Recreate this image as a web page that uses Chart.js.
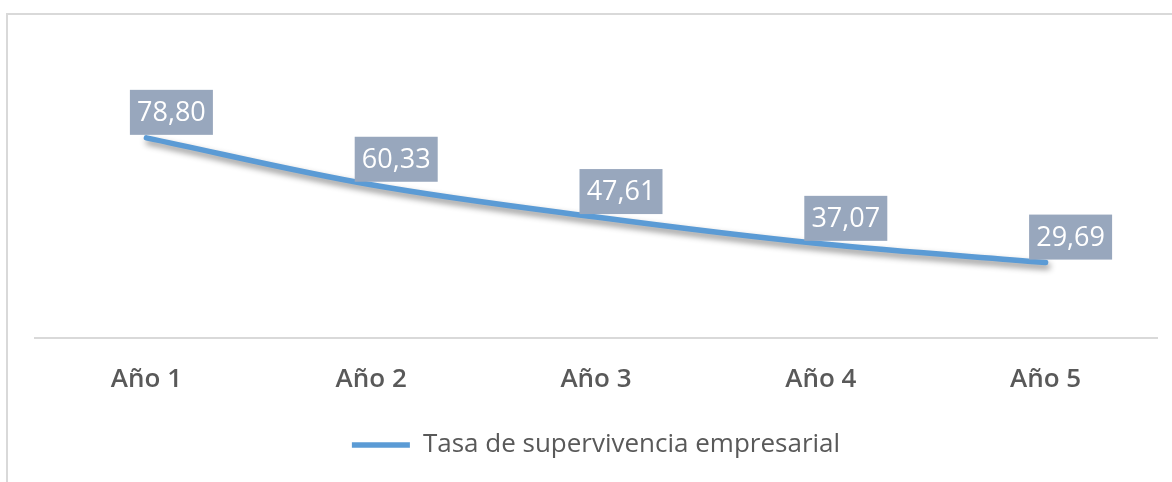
<!DOCTYPE html>
<html>
<head>
<meta charset="utf-8">
<script src="https://cdn.jsdelivr.net/npm/chart.js"></script>
<style>
  html, body { margin: 0; padding: 0; background: #fff; }
  #wrap { width: 1172px; height: 482px; }
</style>
</head>
<body>
<div id="wrap"><canvas id="chart" width="1172" height="482"></canvas></div>
<script>
const categories = ["Año 1", "Año 2", "Año 3", "Año 4", "Año 5"];
const survivalRate = [78.80, 60.33, 47.61, 37.07, 29.69];
const seriesName = "Tasa de supervivencia empresarial";

const fmt = v => v.toFixed(2).replace(".", ",");

// light frame (only top + left edges show) and the category axis line
const frame = {
    id: "frame",
    beforeDraw(chart) {
        const ctx = chart.ctx;
        const a = chart.chartArea;
        ctx.save();
        ctx.strokeStyle = "#D9D9D9";
        ctx.lineWidth = 2;
        ctx.beginPath();
        ctx.moveTo(7, 482);
        ctx.lineTo(7, 14);
        ctx.lineTo(1172, 14);
        ctx.stroke();
        ctx.beginPath();
        ctx.moveTo(a.left, a.bottom);
        ctx.lineTo(a.right, a.bottom);
        ctx.stroke();
        ctx.restore();
    }
};

// soft drop shadow under the line
const lineShadow = {
    id: "lineShadow",
    beforeDatasetDraw(chart) {
        const ctx = chart.ctx;
        ctx.save();
        ctx.shadowColor = "rgba(0,0,0,0.45)";
        ctx.shadowBlur = 6;
        ctx.shadowOffsetX = 2;
        ctx.shadowOffsetY = 4;
    },
    afterDatasetDraw(chart) {
        chart.ctx.restore();
    }
};

// boxed value labels
const valueBoxes = {
    id: "valueBoxes",
    afterDatasetsDraw(chart) {
        const ctx = chart.ctx;
        const meta = chart.getDatasetMeta(0);
        ctx.save();
        ctx.font = "27px 'Open Sans'";
        ctx.textAlign = "center";
        ctx.textBaseline = "middle";
        meta.data.forEach((pt, i) => {
            const txt = fmt(survivalRate[i]);
            const w = Math.max(83, ctx.measureText(txt).width + 14);
            const h = 45;
            const cx = pt.x + 25;
            const bottom = pt.y - 3;
            ctx.fillStyle = "#98A7BD";
            ctx.fillRect(cx - w / 2, bottom - h, w, h);
            ctx.fillStyle = "#FFFFFF";
            ctx.fillText(txt, cx, bottom - h / 2 + 1);
        });
        ctx.restore();
    }
};

new Chart(document.getElementById("chart"), {
    type: "line",
    data: {
        labels: categories,
        datasets: [{
            label: seriesName,
            data: survivalRate,
            borderColor: "#5B9BD5",
            backgroundColor: "#5B9BD5",
            borderWidth: 5.5,
            borderCapStyle: "round",
            borderJoinStyle: "round",
            tension: 0.35,
            pointRadius: 0,
            pointHoverRadius: 0,
            fill: false
        }]
    },
    options: {
        responsive: false,
        animation: false,
        events: [],
        layout: { padding: { left: 34, right: 14, top: 84, bottom: 14 } },
        scales: {
            x: {
                offset: true,
                grid: { display: false, drawTicks: false },
                border: { display: false },
                ticks: {
                    color: "#595959",
                    padding: 26,
                    font: { family: "'Open Sans'", size: 26, weight: "600" }
                },
                afterFit(scale) { scale.height = 87; }
            },
            y: {
                display: false,
                min: 0,
                max: 100
            }
        },
        plugins: {
            legend: {
                position: "bottom",
                labels: {
                    color: "#595959",
                    font: { family: "'Open Sans'", size: 26 },
                    usePointStyle: true,
                    pointStyle: "line",
                    pointStyleWidth: 58,
                    padding: 7
                }
            },
            tooltip: { enabled: false }
        }
    },
    plugins: [frame, lineShadow, valueBoxes]
});
</script>
</body>
</html>
